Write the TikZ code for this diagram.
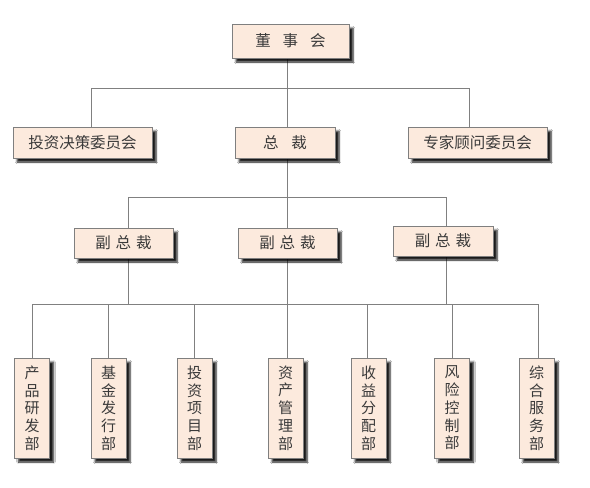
\documentclass[tikz,border=0pt]{standalone}
\usepackage{fontspec}
\newfontfamily\cjk{Noto Sans CJK SC}
\usetikzlibrary{shadows.blur,backgrounds}
\definecolor{boxfill}{HTML}{FCEADD}
\definecolor{boxline}{HTML}{7F7F7F}
\definecolor{txt}{HTML}{3A3A3A}
\definecolor{conncol}{HTML}{808080}
\tikzset{
  orgbox/.style={draw=boxline, line width=1pt, fill=boxfill, inner sep=0pt, text=txt,
    blur shadow={shadow xshift=4pt, shadow yshift=-4pt, shadow blur radius=1.8pt, shadow blur steps=6, shadow opacity=90}},
  hbox/.style={orgbox, font=\cjk\fontsize{15.5}{18}\selectfont},
  vbox/.style={orgbox, minimum width=35pt, minimum height=100pt, align=center,
    font=\cjk\fontsize{15}{17.7}\selectfont},
  conn/.style={draw=conncol, line width=0.9pt}
}
\begin{document}
\begin{tikzpicture}[x=1pt,y=-1pt]
\useasboundingbox (0,0) rectangle (590,488);
% nodes
\node[hbox, minimum width=117pt, minimum height=34pt] (top) at (290.5,41) {董\hspace{12pt}事\hspace{12pt}会};
\node[hbox, minimum width=139pt, minimum height=31pt] (inv) at (82.5,142.5) {投资决策委员会};
\node[hbox, minimum width=100pt, minimum height=31pt] (pres) at (285,142.5) {总\hspace{13pt}裁};
\node[hbox, minimum width=139pt, minimum height=31pt] (exp) at (477.5,142.5) {专家顾问委员会};
\node[hbox, minimum width=99pt, minimum height=30pt] (vp1) at (123.5,243) {副\hspace{5pt}总\hspace{5pt}裁};
\node[hbox, minimum width=99pt, minimum height=30pt] (vp2) at (287.5,243) {副\hspace{5pt}总\hspace{5pt}裁};
\node[hbox, minimum width=100pt, minimum height=30pt] (vp3) at (443,241) {副\hspace{5pt}总\hspace{5pt}裁};
\node[vbox] (d1) at (32,408) {产\\品\\研\\发\\部};
\node[vbox] (d2) at (108.5,408) {基\\金\\发\\行\\部};
\node[vbox] (d3) at (194.5,408) {投\\资\\项\\目\\部};
\node[vbox] (d4) at (285.5,408) {资\\产\\管\\理\\部};
\node[vbox] (d5) at (368.5,408) {收\\益\\分\\配\\部};
\node[vbox] (d6) at (452,408) {风\\险\\控\\制\\部};
\node[vbox] (d7) at (536.5,408) {综\\合\\服\\务\\部};
% junction coordinates
\coordinate (a0) at (287,88);
\coordinate (a1) at (91,88);
\coordinate (a3) at (469,88);
\coordinate (b0) at (287,197);
\coordinate (b1) at (128,197);
\coordinate (b3) at (446,197);
\coordinate (c1) at (32,304);
\coordinate (c2) at (108,304);
\coordinate (c3) at (194,304);
\coordinate (c4) at (287,304);
\coordinate (c5) at (367,304);
\coordinate (c6) at (452,304);
\coordinate (c7) at (538,304);
\begin{scope}[on background layer]
\fill[white] (0,0) rectangle (590,488);
\draw[conn] (top.south -| a0) -- (a0 |- pres.north);
\draw[conn] (a1 |- inv.north) -- (a1) -- (a3) -- (a3 |- exp.north);
\draw[conn] (pres.south -| b0) -- (b0 |- vp2.north);
\draw[conn] (b1 |- vp1.north) -- (b1) -- (b3) -- (b3 |- vp3.north);
\draw[conn] (vp1.south -| b1) -- (b1 |- c1);
\draw[conn] (vp2.south -| b0) -- (c4);
\draw[conn] (vp3.south -| b3) -- (b3 |- c1);
\draw[conn] (c1 |- d1.north) -- (c1) -- (c7) -- (c7 |- d7.north);
\draw[conn] (c2) -- (c2 |- d2.north);
\draw[conn] (c3) -- (c3 |- d3.north);
\draw[conn] (c4) -- (c4 |- d4.north);
\draw[conn] (c5) -- (c5 |- d5.north);
\draw[conn] (c6) -- (c6 |- d6.north);
\end{scope}
\end{tikzpicture}
\end{document}
